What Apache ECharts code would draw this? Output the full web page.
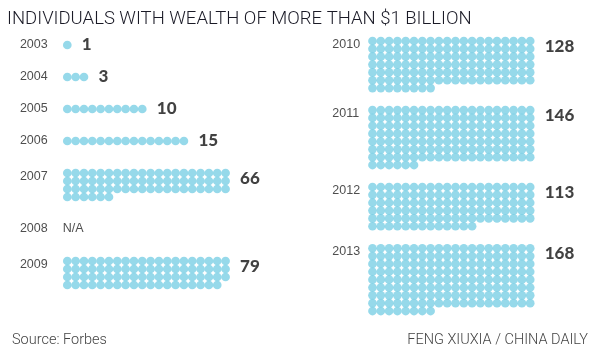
<!DOCTYPE html>
<html>
<head>
<meta charset="utf-8">
<title>Individuals with wealth of more than $1 billion</title>
<script src="https://cdn.jsdelivr.net/npm/echarts@6/dist/echarts.min.js"></script>
<style>
    html, body { margin: 0; padding: 0; background: #fff; }
    #chart { width: 599px; height: 353px; }
</style>
</head>
<body>
<div id="chart"></div>
<script>
// 数据：每个点 = 1 位十亿富豪
var leftYears = ['2003', '2004', '2005', '2006', '2007', '2008', '2009'];
var leftCounts = [1, 3, 10, 15, 66, null, 79];   // 2008 没有数据 (N/A)
var rightYears = ['2010', '2011', '2012', '2013'];
var rightCounts = [128, 146, 113, 168];
var dotsPerRow = 20;

var dotColor = '#7ccfe5';

// 把一列年份排成点阵：x = 第几列，y = 第几行
function buildColumn(years, counts, gapRows, yearCol) {
    var dots = [], yearLabels = [], valueLabels = [];
    var start = 0;
    years.forEach(function(year, i){
        var c = counts[i];
        var rows = c ? Math.ceil(c / dotsPerRow) : 1;
        for (var k = 0; k < (c || 0); k++) {
            dots.push([k % dotsPerRow, start + Math.floor(k / dotsPerRow)]);
        }
        yearLabels.push({ name: year, value: [yearCol, start + (rows > 1 ? 0.45 : 0)] });
        if (c == null) {
            valueLabels.push({
                name: 'N/A',
                value: [0, start],
                label: { position: 'left', align: 'left', distance: 0, offset: [-4, 0],
                         fontFamily: 'Liberation Sans', fontWeight: 'normal', fontSize: 12.5, color: '#222' }
            });
        } else {
            valueLabels.push({ name: String(c), value: [Math.min(c, dotsPerRow) - 1, start + (rows > 1 ? 0.7 : 0)] });
        }
        start += rows - 1 + gapRows;
    });
    return { dots: dots, yearLabels: yearLabels, valueLabels: valueLabels, lastRow: start - gapRows };
}

var leftCol = buildColumn(leftYears, leftCounts, 4, -5.75);
var rightCol = buildColumn(rightYears, rightCounts, 2.8, -4.9);

function columnSeries(col, idx) {
    return [
        {
            type: 'scatter', xAxisIndex: idx, yAxisIndex: idx, silent: true,
            symbolSize: 8.7, itemStyle: { color: dotColor },
            data: col.dots
        },
        {
            type: 'scatter', xAxisIndex: idx, yAxisIndex: idx, silent: true,
            symbolSize: 1, itemStyle: { color: 'transparent' },
            label: { show: true, position: 'right', distance: 0, formatter: '{b}',
                     fontFamily: 'Liberation Sans', fontSize: 12.5, color: '#222' },
            data: col.yearLabels
        },
        {
            type: 'scatter', xAxisIndex: idx, yAxisIndex: idx, silent: true,
            symbolSize: 1, itemStyle: { color: 'transparent' },
            label: { show: true, position: 'right', distance: 14, formatter: '{b}',
                     fontFamily: 'Lato', fontWeight: 900, fontSize: 17, color: '#111' },
            data: col.valueLabels
        }
    ];
}

var myChart = echarts.init(document.getElementById('chart'));
var option = {
    animation: false,
    title: [
        { text: 'INDIVIDUALS WITH WEALTH OF MORE THAN $1 BILLION', left: 2, top: 5,
          textStyle: { fontFamily: 'Roboto', fontWeight: 300, fontSize: 18.5, color: '#1a1a26' } },
        { text: 'Source: Forbes', left: 7, top: 328,
          textStyle: { fontFamily: 'Roboto', fontWeight: 300, fontSize: 14.5, color: '#444' } },
        { text: 'FENG XIUXIA / CHINA DAILY', right: 6, top: 328,
          textStyle: { fontFamily: 'Roboto', fontWeight: 300, fontSize: 14.5, color: '#444' } }
    ],
    // 左列第一个点中心 x=67.3，右列 x=372.5；列距约 8.3px
    grid: [
        { left: 67.3 - 6 * 8.33, top: 45, width: 25 * 8.33, height: leftCol.lastRow * 8.0 },
        { left: 372.5 - 5 * 8.3, top: 41, width: 24 * 8.3, height: rightCol.lastRow * 7.85 }
    ],
    xAxis: [
        { type: 'value', gridIndex: 0, min: -6, max: 19, show: false },
        { type: 'value', gridIndex: 1, min: -5, max: 19, show: false }
    ],
    yAxis: [
        { type: 'value', gridIndex: 0, min: 0, max: leftCol.lastRow, inverse: true, show: false },
        { type: 'value', gridIndex: 1, min: 0, max: rightCol.lastRow, inverse: true, show: false }
    ],
    series: columnSeries(leftCol, 0).concat(columnSeries(rightCol, 1))
};
myChart.setOption(option);
</script>
</body>
</html>
